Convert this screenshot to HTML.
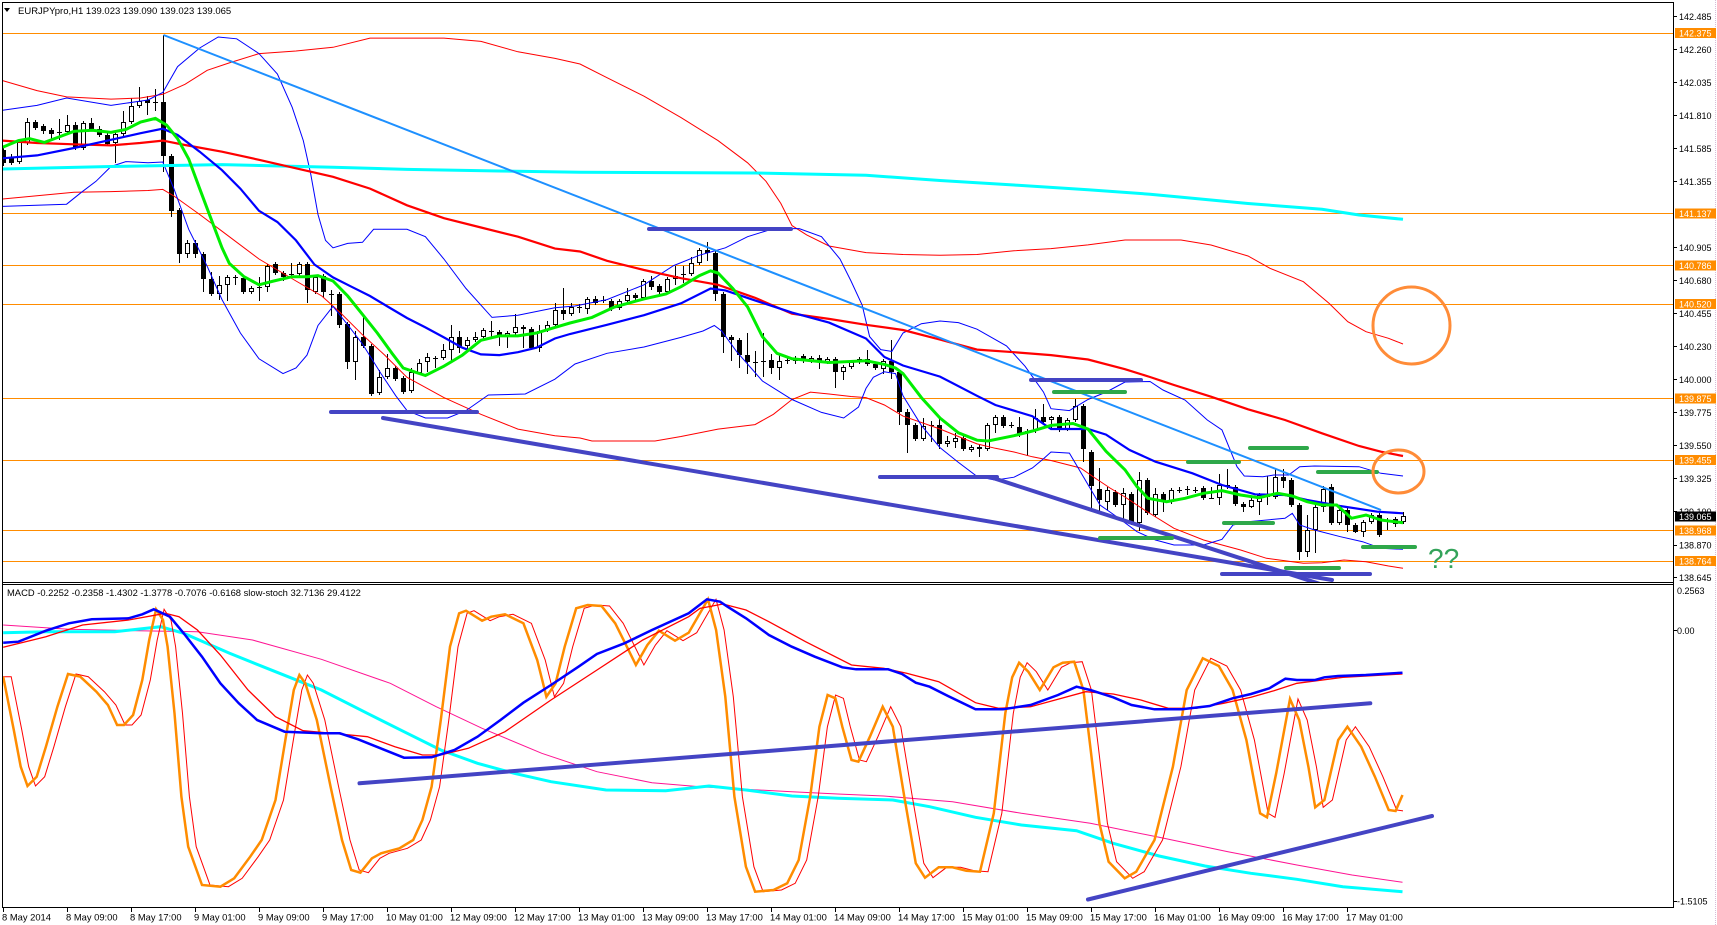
<!DOCTYPE html>
<html><head><meta charset="utf-8"><style>
html,body{margin:0;padding:0;background:#fff;}
svg{display:block;}
text{font-family:"Liberation Sans",Arial,sans-serif;}
</style></head><body>
<svg id="s" width="1717" height="925" viewBox="0 0 1717 925" xmlns="http://www.w3.org/2000/svg">
<defs>
<clipPath id="cm"><rect x="2" y="2" width="1671" height="580"/></clipPath>
<clipPath id="cs"><rect x="2" y="584" width="1671" height="323"/></clipPath>
<clipPath id="cs2"><rect x="2" y="584" width="1401" height="323"/></clipPath>
</defs>
<rect x="0" y="0" width="1717" height="925" fill="#fff"/>

<g clip-path="url(#cm)">
<g stroke="#FF8C00" stroke-width="1">
<line x1="2" y1="33.5" x2="1673" y2="33.5"/>
<line x1="2" y1="213.5" x2="1673" y2="213.5"/>
<line x1="2" y1="265.5" x2="1673" y2="265.5"/>
<line x1="2" y1="304.5" x2="1673" y2="304.5"/>
<line x1="2" y1="398.5" x2="1673" y2="398.5"/>
<line x1="2" y1="460.5" x2="1673" y2="460.5"/>
<line x1="2" y1="530.5" x2="1673" y2="530.5"/>
<line x1="2" y1="561.5" x2="1673" y2="561.5"/>
</g>

<path id="wk" stroke="#000" stroke-width="1" fill="none" d=""/>
<path id="bb" fill="#000" d=""/>
<path id="wb" fill="#fff" stroke="#000" stroke-width="1" d=""/>

<polyline fill="none" stroke="#FF0000" stroke-width="1" points="2.6,80.6 37,90.6 66.6,96.9 111,99.1 140.6,98 162.8,94.3 185,84.3 207.2,70.3 229.3,62.9 259,53.6 296,51 333,47.3 370,38.1 444,38.1 481,41.4 518,51.8 555,58.4 580,64 607,77.7 644,96.2 681,117.6 718,140.6 747.6,162.8 766,181.3 780.8,203.4 792,225.6 806.7,234.9 829,246 866,252.6 903,254.5 940,255.2 977,254.5 1014,250.8 1051,248.6 1088,244.9 1125,240 1144,240 1181,240 1211,245 1248,256 1270,268.3 1303.4,281.7 1329,303.3 1347.8,321.7 1366,331.7 1388.5,338.3 1403,344"/>
<polyline fill="none" stroke="#FF0000" stroke-width="1" points="2.6,199 74,192.3 111,191.6 148,190.5 162.8,189.4 173.9,196 199.7,214.5 222,231.2 259,259 296,281 321.8,296 340.3,312.6 362.5,334.8 384.7,355.1 407,377.3 443.9,397.6 480.9,414.3 517.9,429.1 554.9,435.7 580,438 592,441 655,441 681,436.5 718,429.1 755,424.6 773.4,414.3 792,399.5 810.4,392.1 829,394 851,396.5 866,397.6 884.4,405 903,416.1 940,429 958.4,436.5 977,443.9 995.4,448.3 1014,452 1032.4,456.8 1051,460.5 1080.5,468 1095,478 1110,488 1125,497 1144.4,510 1174,528.3 1203.6,540 1240.6,550 1266.5,558.3 1285,560.7 1303.4,563.3 1322,562.7 1344,560 1366,561.7 1388.5,566 1403,568.3"/>
<polyline fill="none" stroke="#0000FF" stroke-width="1" points="2.6,110.2 37,105.4 66.6,98 111,105.4 148,100 162.8,92.5 177.6,66.6 199.7,48 218.2,37 236.7,38.8 259,53.6 277.4,74 292.2,107.3 303.3,140.6 310.7,173.9 318,214.5 325.5,240.4 333,247.8 347.7,243.4 362.5,242.3 373.6,229.3 407,229.3 425.4,236.7 443.9,259 466,288.5 492,317.4 517.9,315.2 554.9,307.8 575,306 607,299.6 644,284.8 673.6,265.6 699.5,255.2 725.4,247.8 747.6,236.7 773.4,228.6 799.3,228.6 821.5,236.7 840,259 851,281 862.2,305.2 869.6,336.6 880.7,349.6 891.8,351.4 903,333 921.4,323.7 940,321 958.4,322.6 977,329.2 1006.5,345.9 1025,366.2 1043.5,392.1 1051,408.7 1069.4,410.6 1088,399.5 1106.4,392 1125,382 1150,381.5 1163,390 1185,400 1207.3,420 1222,430 1229.5,448.3 1237,466.7 1244.3,476 1262.8,476.7 1273.9,475 1288.7,475 1299.7,466.7 1314.5,466 1359,466.7 1381,473.3 1403,476"/>
<polyline fill="none" stroke="#0000FF" stroke-width="1" points="2.6,206.4 66.6,204.2 81.4,192.3 96,181.3 111,166.5 125.8,161.6 148,162.8 162.8,162 173.9,188.7 188.7,229.3 207.2,266.3 222,299.6 240.4,333 259,358.8 283,373.6 296,368 307,355.1 318,325.5 333,306.3 347.7,324.8 362.5,344 381,373.6 395.8,395.8 407,410.6 425.4,418 447.6,418 466,410.6 488.3,395 525.3,394 554.9,379.2 575,364 607,353.3 644,347 681,337.4 703,331 714.3,325.5 721.7,331 736.5,351.4 762.4,381 792,399.5 821.5,412.4 843.7,418 858.5,407 866,388.4 873.3,377.3 884.4,371.8 895.5,373.6 903,395.8 921.4,425.4 940,447.6 958.4,462.4 977,476.4 995.4,480.1 1014,477.2 1032.4,468 1043.5,458.7 1051,452 1069.4,453.1 1088,484.6 1100,505 1118.5,518 1137,531.7 1155.5,540 1174,545 1203.6,545 1222,539.3 1233,525 1248,521.7 1285,518.3 1292.3,513.3 1299.7,525 1314.5,530 1340.4,536.7 1362.6,541.7 1381,548.3 1403,549.3"/>

<polyline fill="none" stroke="#00FFFF" stroke-width="3" points="2.6,169 111,166.5 222,164.6 333,167.2 407,169.4 499,171 580,172.2 755,173 866,175.3 940,180.5 1014,185 1088,189.8 1150,194.2 1174,196.5 1248,203.5 1322,209.3 1359,215 1403,219.3"/>
<polyline fill="none" stroke="#FF0000" stroke-width="2.2" points="2.6,140.6 37,143 74,144.3 111,145.4 140,143 162.8,140.6 185,145 222,151.7 259,159.8 296,168.3 333,176.8 370,188.6 407,205.3 444,218.2 481,227.5 518,236.7 555,248.6 580,251.5 607,260.8 644,270 681,278.2 718,284.8 755,297.8 792,313.7 829,318.9 866,324.8 903,330 940,339.6 977,349.6 1014,352.2 1051,355.1 1088,359.5 1125,369.2 1150,377 1174,385 1211,396.7 1248,409.3 1285,420 1322,433.3 1359,446 1381,451.7 1403,456"/>
<polyline fill="none" stroke="#0000FF" stroke-width="2.2" points="2.6,158.3 37,155.4 74,148 111,139.8 140.6,133.2 162.8,128.7 177.6,135 199.7,151.7 222,170.2 240.4,188.7 259,210.8 277.4,222 296,240.4 314.4,264.5 333,277.4 351.4,286.7 370,296 388.4,307 407,318 425.4,327.4 443.9,337.4 462.4,347.7 480.9,354.4 499.4,355.1 517.9,352.2 536.4,347.7 554.9,338.5 570,334 607,324.8 644,315.2 681,303.3 710.6,288.5 725.4,290.4 755,300.4 792,312.6 829,322.6 866,338.5 884.4,357 903,365.5 940,376.6 977,395.8 995.4,405 1032.4,416.2 1051,429 1088,429 1106,434.6 1129.6,450 1155.5,461.7 1192.5,473.3 1222,485 1255,494.3 1285,495 1307,500 1340,506 1377.4,511.7 1403,513.3"/>
<polyline fill="none" stroke="#00EE00" stroke-width="3" points="2.6,147.2 18.5,140.6 29.6,138.7 44.4,142.4 59.2,136.9 74,131.3 92.5,130.2 111,132.4 125.8,129.5 140.6,122 155.4,118.4 166.5,125 177.6,138.7 188.7,159 199.7,188.7 210.8,218.2 222,247.8 229.3,263.4 244,276.7 259,284.8 273.7,281 292.2,276.7 307,276.7 318,275.6 333,281 347.7,296 362.5,314.4 377.3,333 392,353.3 403.2,368 414.3,371.8 425.4,375.5 443.9,366.2 462.4,355.1 480.9,340.3 499.4,335.9 517.9,335.9 536.4,333 554.9,327.4 570,323 592,317.4 614.4,307 644,298.9 666,294 681,286.7 699.5,275.6 710.6,270.8 718,273 732.8,288.5 747.6,307 762.4,336.6 777,353.3 792,358.8 829,362.5 866,360.7 884.4,364.4 895.5,368 903,373.6 921.4,397.6 940,418 958.4,432.8 977,440.2 988,441 1014,435.7 1032.4,431 1051,425.4 1073,423.5 1088,429 1106,451.3 1125,469.8 1137,486.7 1148,498.3 1166.6,501.7 1185,498.3 1203.6,493.3 1222,490.7 1240.6,495 1259,497.7 1277.6,493.3 1292.3,496 1307,501.7 1322,505 1336.7,505 1351.5,518.3 1366,515 1381,520 1403,522.7"/>

<line x1="163.5" y1="35" x2="1381" y2="510" stroke="#1E90FF" stroke-width="2"/>

<g stroke="#4444C4" stroke-width="4" stroke-linecap="round">
<line x1="331" y1="412" x2="477" y2="412"/>
<line x1="383" y1="418" x2="1332" y2="580"/>
<line x1="649" y1="229" x2="791" y2="229"/>
<line x1="880" y1="477" x2="997" y2="477"/>
<line x1="1031" y1="380" x2="1141" y2="380"/>
<line x1="990" y1="477" x2="1320" y2="584"/>
<line x1="1222" y1="574" x2="1370" y2="574"/>
</g>
<g stroke="#2EA84A" stroke-width="4" stroke-linecap="round">
<line x1="1054" y1="392" x2="1125" y2="392"/>
<line x1="1100" y1="538" x2="1172" y2="538"/>
<line x1="1188" y1="462" x2="1239" y2="462"/>
<line x1="1250" y1="448" x2="1307" y2="448"/>
<line x1="1224" y1="523" x2="1273" y2="523"/>
<line x1="1318" y1="472" x2="1377" y2="472"/>
<line x1="1286" y1="568" x2="1339" y2="568"/>
<line x1="1363" y1="547" x2="1415" y2="547"/>
</g>
<circle cx="1411.5" cy="325.5" r="38.5" fill="none" stroke="#FF8C38" stroke-width="3"/>
<ellipse cx="1398.5" cy="471.5" rx="25.5" ry="21.5" fill="none" stroke="#FF8C38" stroke-width="3"/>
<text x="1428" y="568" font-size="28" fill="#33A35A">??</text>
</g>

<path d="M4,8 L10,8 L7,12 Z" fill="#000"/>
<text x="18" y="14" font-size="9.5" fill="#000">EURJPYpro,H1  139.023 139.090 139.023 139.065</text>

<g clip-path="url(#cs)">
<polyline fill="none" stroke="#FF1493" stroke-width="1" points="3.2,625 68.9,629.3 137.7,630.7 197.4,631.7 252.5,640 321.4,659.3 390.3,683.3 436.2,706.7 482.1,728.3 541.8,753.3 596.9,771.7 652,782.7 700,786.7 746,789.3 791.8,791.7 837.7,794 883.7,796 952.5,801.7 1021.4,813.3 1090.3,823.3 1159.1,837.3 1228,851.7 1296.9,865 1352,875 1402.5,882.3"/>
<polyline fill="none" stroke="#00FFFF" stroke-width="3" points="3.2,632.7 45.9,631.7 114.8,631.7 160.7,626.7 183.7,633.3 229.6,653.3 275.5,671.7 321.4,690 367.3,713.3 404,731.7 440.8,750 477.5,763.3 514.2,773.3 551,781.7 606,790 665.7,790.7 709,786 746,790 791.8,796 837.7,798.3 892.8,800 929.6,806.7 975.5,817.3 1021.4,825 1076.5,830.7 1113.2,843.3 1159.1,856 1205,866 1251,873.3 1296.9,879.3 1342.8,886.7 1402.5,891.7"/>
<g clip-path="url(#cs2)">
<polyline transform="translate(8,0)" fill="none" stroke="#FF0000" stroke-width="1" points="-5,676.7 3.2,676.7 13.8,730 20.7,766.7 27.5,786 36.7,776.7 45.9,746.7 57.4,706.7 68,674 80.3,676.7 96.4,691.7 107.9,705 117.1,725 124,725 133.1,715 142.3,680 149.2,640 156.1,609.3 163,620 167.6,646.7 174.5,713.3 181.4,796.7 188.2,846.7 202,885 220.4,886.7 234.2,878.3 250.2,856.7 261.7,840 275.5,800 287,730 293.8,690 299.4,675 305.3,683.3 316.8,720 330.6,786.7 342,840 351.2,870 360.4,872.7 371.9,858.3 381.1,853.3 399.4,848.3 413.2,840 422.4,820 431.6,786.7 440.8,720 450,646.7 459.1,613.3 466,610.7 482.1,620.7 491.3,616.7 505,614.3 523.4,623.3 537.2,660 546.4,696.7 555.6,683.3 564.7,646.7 576.2,608.3 587.7,605 601.5,606 615.2,623.3 624.4,641.7 635.9,665 647.4,645 658.9,630.7 675,640.7 688.7,632.7 708,599.3 716.1,630 725.3,696.7 734.4,796.7 745.9,866.7 755.1,891.7 773.5,890 787.2,883.3 798.7,860 810.2,796.7 819.4,726.7 827.6,695 835.4,698.3 842.3,726.7 851.5,760 858.4,761.7 869.9,736.7 882.7,706.7 892.8,726.7 904.3,796.7 915.8,863.3 925,877.7 938.7,867.3 952.5,867.3 966.3,870.7 980,871.7 993.8,813.3 1005.3,713.3 1012.2,677.3 1019.1,662.7 1028.3,671.7 1039.8,690 1053.5,667.3 1062.7,662.7 1074.2,661.7 1083.4,690 1090.3,746.7 1099.4,823.3 1108.6,861.7 1124.7,878.3 1136.2,871.7 1154.5,840 1172.9,766.7 1186.7,690 1202.8,658.3 1218.8,666 1232.6,690 1246.4,740 1260.1,813.3 1267,817.3 1276.2,773.3 1290,699 1299.2,720 1308.4,766.7 1315.2,807.3 1324.4,800 1338.2,740 1347.4,726.7 1361.2,746.7 1374.9,776.7 1388.7,810 1395.6,811 1402.5,805"/>
</g>
<polyline fill="none" stroke="#FF8C00" stroke-width="2.5" points="3.2,676.7 13.8,730 20.7,766.7 27.5,786 36.7,776.7 45.9,746.7 57.4,706.7 68,674 80.3,676.7 96.4,691.7 107.9,705 117.1,725 124,725 133.1,715 142.3,680 149.2,640 156.1,609.3 163,620 167.6,646.7 174.5,713.3 181.4,796.7 188.2,846.7 202,885 220.4,886.7 234.2,878.3 250.2,856.7 261.7,840 275.5,800 287,730 293.8,690 299.4,675 305.3,683.3 316.8,720 330.6,786.7 342,840 351.2,870 360.4,872.7 371.9,858.3 381.1,853.3 399.4,848.3 413.2,840 422.4,820 431.6,786.7 440.8,720 450,646.7 459.1,613.3 466,610.7 482.1,620.7 491.3,616.7 505,614.3 523.4,623.3 537.2,660 546.4,696.7 555.6,683.3 564.7,646.7 576.2,608.3 587.7,605 601.5,606 615.2,623.3 624.4,641.7 635.9,665 647.4,645 658.9,630.7 675,640.7 688.7,632.7 708,599.3 716.1,630 725.3,696.7 734.4,796.7 745.9,866.7 755.1,891.7 773.5,890 787.2,883.3 798.7,860 810.2,796.7 819.4,726.7 827.6,695 835.4,698.3 842.3,726.7 851.5,760 858.4,761.7 869.9,736.7 882.7,706.7 892.8,726.7 904.3,796.7 915.8,863.3 925,877.7 938.7,867.3 952.5,867.3 966.3,870.7 980,871.7 993.8,813.3 1005.3,713.3 1012.2,677.3 1019.1,662.7 1028.3,671.7 1039.8,690 1053.5,667.3 1062.7,662.7 1074.2,661.7 1083.4,690 1090.3,746.7 1099.4,823.3 1108.6,861.7 1124.7,878.3 1136.2,871.7 1154.5,840 1172.9,766.7 1186.7,690 1202.8,658.3 1218.8,666 1232.6,690 1246.4,740 1260.1,813.3 1267,817.3 1276.2,773.3 1290,699 1299.2,720 1308.4,766.7 1315.2,807.3 1324.4,800 1338.2,740 1347.4,726.7 1361.2,746.7 1374.9,776.7 1388.7,810 1395.6,811 1402.5,795"/>
<polyline fill="none" stroke="#FF0000" stroke-width="1.3" points="3.2,647.3 45.9,636.7 82.6,625 128.6,620 165.3,613.3 179,616.7 197.4,630 220.4,655 248,690 275.5,716.7 303,730.7 339.8,734 367.3,736.7 394.9,746.7 422.4,755 440.8,755 468.3,748.3 505,731.7 551,700 597,670 642.8,640 688.7,616.7 700,608.3 723,604 746,610 768.9,621.7 805.6,641.7 851.5,665 883.7,668.3 906.6,673.3 938.7,681.7 975.5,702.7 998.4,708.3 1030.6,706.7 1058,699.3 1085.7,691.7 1113.2,694 1140.8,700 1168.3,708.3 1195.9,708.3 1223.4,703.3 1251,697.3 1273.9,690.7 1296.9,683.3 1342.8,677.3 1402.5,674"/>
<polyline fill="none" stroke="#0000FF" stroke-width="2.5" points="3.2,642.7 18.4,641.7 45.9,630.7 68.9,623.3 91.8,619.3 128.6,618.3 142.3,614.3 153.8,609.3 169.9,616.7 183.7,633.3 202,656.7 220.4,683.3 238.8,703.3 257.1,720 284.7,731.7 321.4,733.3 339.8,733.3 358.1,739.3 376.5,746.7 404,757.7 431.6,757.3 454.5,750 477.5,736.7 500.5,720 523.4,702.7 551,685 578.5,666.7 596.9,654 624.4,643.3 652,630 688.7,613.3 707,599.3 720,601.7 727.5,606.7 746,618.3 768.9,635 791.8,646.7 814.8,656.7 842.3,667.3 856.1,669.3 888.2,669.3 902,674 915.8,682.7 929.6,686.7 948,696 975.5,709.3 1003,709.3 1030.6,705 1058,695 1076.5,686.7 1090.3,690 1113.2,697.3 1131.6,705 1154.5,709.3 1182,709.3 1209.6,706 1232.6,698.3 1251,694 1269.3,688.3 1285.4,678.7 1296.9,680 1315.2,680 1324.4,677.3 1338.2,676 1365.7,675 1402.5,672.7"/>
<g stroke="#4444C4" stroke-width="4" stroke-linecap="round">
<line x1="359.5" y1="783.3" x2="1370.3" y2="703.3"/>
<line x1="1088" y1="899.5" x2="1432" y2="816"/>
</g>
</g>
<text x="7" y="596" font-size="9.4" fill="#000">MACD -0.2252 -0.2358 -1.4302 -1.3778 -0.7076 -0.6168  slow-stoch 32.7136 29.4122</text>

<g stroke="#000" stroke-width="1" fill="none">
<line x1="2" y1="2.5" x2="1674" y2="2.5"/>
<line x1="2.5" y1="2" x2="2.5" y2="908"/>
<line x1="1673.5" y1="2" x2="1673.5" y2="908"/>
<line x1="2" y1="582.5" x2="1674" y2="582.5"/>
<line x1="2" y1="584.5" x2="1674" y2="584.5"/>
<line x1="2" y1="907.5" x2="1674" y2="907.5"/>
</g>
<line x1="1715.5" y1="0" x2="1715.5" y2="925" stroke="#d8bcd8" stroke-width="1" stroke-dasharray="1,1"/>

<g stroke="#000" stroke-width="1">
<line x1="1674" y1="16.5" x2="1677" y2="16.5"/><line x1="1674" y1="49.5" x2="1677" y2="49.5"/><line x1="1674" y1="82.5" x2="1677" y2="82.5"/><line x1="1674" y1="115.5" x2="1677" y2="115.5"/><line x1="1674" y1="148.5" x2="1677" y2="148.5"/><line x1="1674" y1="181.5" x2="1677" y2="181.5"/><line x1="1674" y1="247.5" x2="1677" y2="247.5"/><line x1="1674" y1="280.5" x2="1677" y2="280.5"/><line x1="1674" y1="313.5" x2="1677" y2="313.5"/><line x1="1674" y1="346.5" x2="1677" y2="346.5"/><line x1="1674" y1="379.5" x2="1677" y2="379.5"/><line x1="1674" y1="412.5" x2="1677" y2="412.5"/><line x1="1674" y1="445.5" x2="1677" y2="445.5"/><line x1="1674" y1="478.5" x2="1677" y2="478.5"/><line x1="1674" y1="511.5" x2="1677" y2="511.5"/><line x1="1674" y1="545.5" x2="1677" y2="545.5"/><line x1="1674" y1="577.5" x2="1677" y2="577.5"/>
<line x1="1674" y1="630.5" x2="1677" y2="630.5"/><line x1="1674" y1="901.5" x2="1677" y2="901.5"/>
</g>
<g font-size="9" fill="#000">
<text x="1679" y="20">142.485</text>
<text x="1679" y="53">142.260</text>
<text x="1679" y="86">142.035</text>
<text x="1679" y="119">141.810</text>
<text x="1679" y="152">141.585</text>
<text x="1679" y="185">141.355</text>
<text x="1679" y="251">140.905</text>
<text x="1679" y="284">140.680</text>
<text x="1679" y="317">140.455</text>
<text x="1679" y="350">140.230</text>
<text x="1679" y="383">140.000</text>
<text x="1679" y="416">139.775</text>
<text x="1679" y="449">139.550</text>
<text x="1679" y="482">139.325</text>
<text x="1679" y="515">139.100</text>
<text x="1679" y="548.5">138.870</text>
<text x="1679" y="581">138.645</text>
<text x="1677" y="594">0.2563</text>
<text x="1677" y="634">0.00</text>
<text x="1677" y="904.5">-1.5105</text>
</g>
<g fill="#FF8C00">
<rect x="1675" y="28" width="41" height="10"/>
<rect x="1675" y="208.5" width="41" height="10"/>
<rect x="1675" y="260.5" width="41" height="10"/>
<rect x="1675" y="299" width="41" height="10"/>
<rect x="1675" y="393.5" width="41" height="10"/>
<rect x="1675" y="455" width="41" height="10"/>
<rect x="1675" y="525.5" width="41" height="10"/>
<rect x="1675" y="556" width="41" height="10"/>
</g>
<rect x="1675" y="511.5" width="41" height="10" fill="#000"/>
<g font-size="9" fill="#fff">
<text x="1679" y="36.5">142.375</text>
<text x="1679" y="217">141.137</text>
<text x="1679" y="269">140.786</text>
<text x="1679" y="307.5">140.520</text>
<text x="1679" y="402">139.875</text>
<text x="1679" y="463.5">139.455</text>
<text x="1679" y="534">138.968</text>
<text x="1679" y="564.5">138.764</text>
<text x="1679" y="520">139.065</text>
</g>

<g stroke="#000" stroke-width="1">
<line x1="3.5" y1="908" x2="3.5" y2="912"/><line x1="67.5" y1="908" x2="67.5" y2="912"/><line x1="131.5" y1="908" x2="131.5" y2="912"/><line x1="195.5" y1="908" x2="195.5" y2="912"/><line x1="259.5" y1="908" x2="259.5" y2="912"/><line x1="323.5" y1="908" x2="323.5" y2="912"/><line x1="387.5" y1="908" x2="387.5" y2="912"/><line x1="451.5" y1="908" x2="451.5" y2="912"/><line x1="515.5" y1="908" x2="515.5" y2="912"/><line x1="579.5" y1="908" x2="579.5" y2="912"/><line x1="643.5" y1="908" x2="643.5" y2="912"/><line x1="707.5" y1="908" x2="707.5" y2="912"/><line x1="771.5" y1="908" x2="771.5" y2="912"/><line x1="835.5" y1="908" x2="835.5" y2="912"/><line x1="899.5" y1="908" x2="899.5" y2="912"/><line x1="963.5" y1="908" x2="963.5" y2="912"/><line x1="1027.5" y1="908" x2="1027.5" y2="912"/><line x1="1091.5" y1="908" x2="1091.5" y2="912"/><line x1="1155.5" y1="908" x2="1155.5" y2="912"/><line x1="1219.5" y1="908" x2="1219.5" y2="912"/><line x1="1283.5" y1="908" x2="1283.5" y2="912"/><line x1="1347.5" y1="908" x2="1347.5" y2="912"/>
</g>
<g font-size="9.4" fill="#000">
<text x="2" y="920.5">8 May 2014</text>
<text x="66" y="920.5">8 May 09:00</text>
<text x="130" y="920.5">8 May 17:00</text>
<text x="194" y="920.5">9 May 01:00</text>
<text x="258" y="920.5">9 May 09:00</text>
<text x="322" y="920.5">9 May 17:00</text>
<text x="386" y="920.5">10 May 01:00</text>
<text x="450" y="920.5">12 May 09:00</text>
<text x="514" y="920.5">12 May 17:00</text>
<text x="578" y="920.5">13 May 01:00</text>
<text x="642" y="920.5">13 May 09:00</text>
<text x="706" y="920.5">13 May 17:00</text>
<text x="770" y="920.5">14 May 01:00</text>
<text x="834" y="920.5">14 May 09:00</text>
<text x="898" y="920.5">14 May 17:00</text>
<text x="962" y="920.5">15 May 01:00</text>
<text x="1026" y="920.5">15 May 09:00</text>
<text x="1090" y="920.5">15 May 17:00</text>
<text x="1154" y="920.5">16 May 01:00</text>
<text x="1218" y="920.5">16 May 09:00</text>
<text x="1282" y="920.5">16 May 17:00</text>
<text x="1346" y="920.5">17 May 01:00</text>
</g>
</svg>
<script>
(function(){
var D=[[150,163,1,146,166],[157,163,1,154,165],[142,162,0,140,164],[122,143,0,118,145],[122,128,1,120,130],[126,131,1,124,134],[130,134,1,128,140],[132,132,2,119,140],[125,132,0,115,134],[125,148,1,122,150],
[123,148,0,121,150],[123,129,1,118,131],[129,135,1,126,137],[135,144,1,133,146],[134,143,0,131,163],[122,134,0,111,136],[106,122,0,98,124],[101,106,0,87,108],[100,103,1,96,115],[102,102,2,89,111],
[102,156,1,35,172],[156,211,1,154,217],[210,254,1,208,263],[243,254,0,240,258],[243,254,1,240,258],[254,279,1,252,292],[279,294,1,272,296],[285,294,0,276,300],[277,285,0,275,301],[277,277,2,275,285],
[278,292,1,276,294],[288,292,0,286,294],[287,287,2,277,301],[266,287,0,264,292],[264,273,1,262,275],[273,277,1,271,281],[274,274,2,263,276],[264,274,0,262,276],[264,290,1,262,303],[277,292,0,275,294],
[276,292,1,274,298],[294,294,2,290,316],[294,325,1,292,328],[324,362,1,322,369],[337,362,0,331,380],[337,346,1,314,348],[346,394,1,344,396],[377,393,0,370,395],[368,377,0,354,379],[368,379,1,366,381],
[378,392,1,376,394],[372,391,0,368,393],[363,373,0,359,375],[357,362,0,353,372],[358,358,2,356,368],[350,358,0,344,360],[337,350,0,325,361],[337,348,1,331,353],[340,346,0,337,350],[337,340,0,332,342],
[330,337,0,328,339],[331,331,2,321,337],[332,337,1,330,346],[333,337,0,331,348],[327,333,0,314,335],[327,329,1,325,348],[329,348,1,327,350],[331,348,0,325,352],[325,330,0,321,332],[310,325,0,303,327],
[310,314,1,288,320],[307,314,0,303,316],[307,307,2,304,313],[299,309,0,297,314],[299,303,1,296,305],[300,300,2,296,303],[301,309,1,299,311],[301,308,0,299,310],[295,301,0,288,303],[295,298,1,293,300],
[281,298,0,279,300],[281,287,1,276,290],[286,292,1,284,294],[279,292,0,277,294],[276,279,0,266,285],[274,274,2,266,283],[263,274,0,257,276],[250,263,0,248,265],[250,253,1,242,261],[253,294,1,251,301],
[294,337,1,292,353],[337,340,1,335,361],[340,355,1,338,368],[355,362,1,333,374],[362,362,2,351,377],[361,361,2,333,377],[360,368,1,354,374],[361,368,0,355,380],[360,360,2,356,364],[358,361,0,356,364],
[356,361,1,354,363],[358,361,0,356,363],[358,362,1,355,369],[359,362,0,357,364],[359,372,1,357,388],[367,372,0,365,380],[362,367,0,360,369],[359,362,0,357,364],[359,364,1,350,366],[364,368,1,362,370],
[361,369,0,359,374],[361,372,1,340,379],[372,412,1,370,425],[412,425,1,409,453],[425,439,1,423,441],[426,439,0,418,441],[425,425,2,421,442],[425,444,1,418,449],[441,444,0,436,447],[438,442,0,433,448],
[438,449,1,436,451],[447,450,0,445,452],[447,449,0,445,457],[425,449,0,423,451],[417,425,0,415,433],[417,426,1,415,428],[425,425,2,422,428],[427,435,1,417,437],[431,433,0,429,456],[418,431,0,409,433],
[417,422,1,404,424],[417,420,0,416,429],[417,430,1,415,432],[420,429,0,418,431],[406,420,0,399,422],[406,449,1,404,462],[452,486,1,450,510],[489,500,1,468,512],[490,502,0,487,510],[492,505,1,490,507],
[493,505,0,488,522],[494,523,1,492,525],[480,523,0,472,531],[480,513,1,478,515],[494,515,0,488,517],[494,502,1,492,512],[490,502,0,488,504],[490,490,2,487,493],[489,489,2,486,495],[490,490,2,487,493],
[488,498,1,486,500],[498,498,2,487,499],[485,498,0,474,505],[485,487,1,469,489],[487,504,1,485,506],[504,507,1,502,512],[500,507,0,498,508],[495,502,0,493,515],[496,496,2,476,505],[477,497,0,469,499],
[477,481,1,469,488],[480,505,1,478,507],[505,552,1,503,560],[530,552,0,515,557],[507,530,0,505,553],[489,507,0,486,512],[487,523,1,484,525],[510,523,0,507,525],[510,525,1,508,532],[525,532,1,523,533],
[522,532,0,520,537],[515,522,0,513,524],[515,535,1,513,537],[521,521,2,518,530],[519,524,1,517,527],[516,522,0,512,524]];
var w='',b='',wb='';
for(var i=0;i<D.length;i++){
 var d=D[i],x=3+8*i,t=d[0],bt=d[1],k=d[2];
 w+='M'+(x+0.5)+' '+d[3]+'V'+d[4];
 if(k==2){w+='M'+(x-2)+' '+(t+0.5)+'H'+(x+3);}
 else if(k==1){b+='M'+(x-2)+' '+t+'h5v'+Math.max(bt-t,1)+'h-5z';}
 else{wb+='M'+(x-1.5)+' '+(t+0.5)+'h4v'+Math.max(bt-t-1,1)+'h-4z';}
}
document.getElementById('wk').setAttribute('d',w);
document.getElementById('bb').setAttribute('d',b);
document.getElementById('wb').setAttribute('d',wb);
})();
</script>
</body></html>
